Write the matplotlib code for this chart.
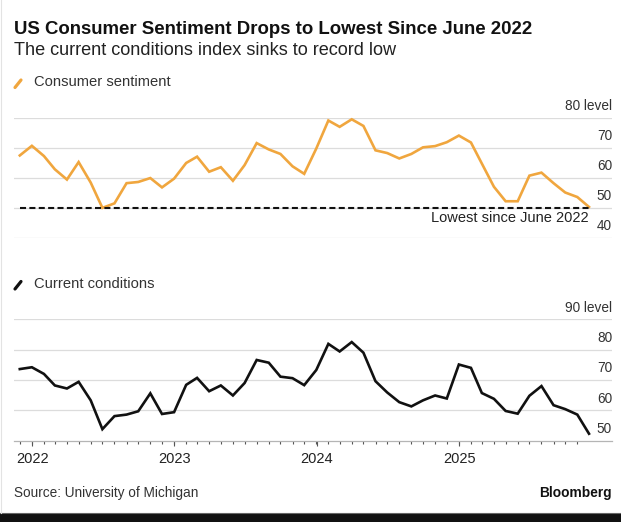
import matplotlib
matplotlib.use('Agg')
import matplotlib.pyplot as plt
import matplotlib.dates as mdates
from matplotlib.lines import Line2D
from matplotlib.patches import Rectangle
import pandas as pd

# ---------------- data ----------------
months = pd.date_range('2021-11-30', periods=49, freq='ME')  # Nov 2021 .. Nov 2025
sentiment = [67.4, 70.6, 67.2, 62.8, 59.4, 65.2, 58.4, 50.0, 51.5, 58.2, 58.6, 59.9,
             56.8, 59.7, 64.9, 67.0, 62.0, 63.5, 59.0, 64.2, 71.5, 69.4, 67.9, 63.8,
             61.3, 69.7, 79.0, 76.9, 79.4, 77.2, 69.1, 68.2, 66.4, 67.9, 70.1, 70.5,
             71.8, 74.0, 71.7, 64.7, 57.0, 52.2, 52.2, 60.7, 61.7, 58.2, 55.1, 53.6,
             50.3]
current = [73.6, 74.2, 72.0, 68.2, 67.2, 69.4, 63.3, 53.8, 58.1, 58.6, 59.7, 65.6,
           58.8, 59.4, 68.4, 70.7, 66.3, 68.2, 64.9, 69.0, 76.6, 75.7, 71.1, 70.6,
           68.3, 73.3, 81.9, 79.4, 82.5, 79.0, 69.6, 65.9, 62.7, 61.3, 63.3, 64.9,
           63.9, 75.1, 74.0, 65.7, 63.8, 59.8, 58.9, 64.8, 68.0, 61.7, 60.4, 58.6,
           52.3]
year_labels = ['2022', '2023', '2024', '2025']
year_ticks = pd.to_datetime(['2022-01-01', '2023-01-01', '2024-01-01', '2025-01-01'])
sentiment_levels = [40, 50, 60, 70, 80]
current_levels = [50, 60, 70, 80, 90]
low_level = 50.0

title = 'US Consumer Sentiment Drops to Lowest Since June 2022'
subtitle = 'The current conditions index sinks to record low'
series1_name = 'Consumer sentiment'
series2_name = 'Current conditions'
low_label = 'Lowest since June 2022'
source = 'Source: University of Michigan'
brand = 'Bloomberg'

# ---------------- style ----------------
ORANGE = '#F0A63E'
GRID = '#dcdcdc'
TXT = '#333333'
W, H = 621, 522
plt.rcParams['font.family'] = ['Liberation Sans', 'DejaVu Sans']

fig = plt.figure(figsize=(W / 100, H / 100), dpi=100)
fig.patch.set_facecolor('white')


def fx(px):
    return px / W


def fy(py):
    return 1 - py / H


x0, x1 = 14, 612
ax1 = fig.add_axes([fx(x0), fy(238), (x1 - x0) / W, (238 - 117.5) / H])
ax2 = fig.add_axes([fx(x0), fy(440.7), (x1 - x0) / W, (440.7 - 319.3) / H])

d0 = mdates.date2num(months[0])
dn = mdates.date2num(months[-1])
scale = (589 - 19.8) / (dn - d0)  # px per day
xlim = (d0 - (19.8 - x0) / scale, dn + (x1 - 589) / scale)

for ax in (ax1, ax2):
    ax.set_xlim(mdates.num2date(xlim[0]), mdates.num2date(xlim[1]))
    for s in ax.spines.values():
        s.set_visible(False)
    ax.set_facecolor('none')
    ax.set_yticks([])

# ---- top panel ----
ax1.set_ylim(40, 80)
ax1.set_xticks([])
for lev in sentiment_levels:
    ax1.axhline(lev, color=GRID, lw=0.9, zorder=1)
    lab = f'{lev} level' if lev == max(sentiment_levels) else f'{lev}'
    ax1.annotate(lab, xy=(1, lev), xycoords=('axes fraction', 'data'),
                 xytext=(0, 8), textcoords='offset pixels', ha='right',
                 va='baseline', fontsize=9.8, color=TXT, annotation_clip=False)
ax1.plot(months, sentiment, color=ORANGE, lw=1.9, zorder=3,
         solid_joinstyle='miter', clip_on=False)
ax1.hlines(low_level, months[0], months[-1], color='#111111', lw=1.5,
           linestyles=(0, (2.9, 1.6)), zorder=4)
ax1.annotate(low_label, xy=(months[-1], low_level), xycoords='data',
             xytext=(0, -14.5), textcoords='offset pixels', ha='right',
             va='baseline', fontsize=10.5, color='#222222')

# ---- bottom panel ----
ax2.set_ylim(50, 90)
for lev in current_levels:
    if lev != min(current_levels):
        ax2.axhline(lev, color=GRID, lw=0.9, zorder=1)
    lab = f'{lev} level' if lev == max(current_levels) else f'{lev}'
    ax2.annotate(lab, xy=(1, lev), xycoords=('axes fraction', 'data'),
                 xytext=(0, 7.5), textcoords='offset pixels', ha='right',
                 va='baseline', fontsize=9.8, color=TXT, annotation_clip=False)
ax2.spines['bottom'].set_visible(True)
ax2.spines['bottom'].set_color('#b5b5b5')
ax2.spines['bottom'].set_linewidth(0.9)
ax2.plot(months, current, color='#111111', lw=1.9, zorder=3,
         solid_joinstyle='miter', clip_on=False)
ax2.set_xticks(year_ticks, labels=year_labels)
ax2.set_xticks(months[:-1], minor=True)
ax2.tick_params(axis='x', which='major', length=3.8, width=0.8, color='#555555',
                pad=4, labelsize=10.5, labelcolor='#222222')
ax2.tick_params(axis='x', which='minor', length=2.2, width=0.8, color='#555555')

# ---- header / legend ----
fig.text(fx(14), fy(34.5), title, fontsize=13.4, fontweight='bold',
         color='#111111', va='baseline', ha='left')
fig.text(fx(14), fy(55), subtitle, fontsize=13.1, color='#222222',
         va='baseline', ha='left')
fig.add_artist(Line2D([fx(15), fx(21)], [fy(87.5), fy(80)], color=ORANGE,
                      lw=2.3, solid_capstyle='round', transform=fig.transFigure))
fig.text(fx(34.5), fy(86), series1_name, fontsize=10.6, color=TXT,
         va='baseline', ha='left')
fig.add_artist(Line2D([fx(15), fx(21)], [fy(289), fy(281.5)], color='#111111',
                      lw=2.3, solid_capstyle='round', transform=fig.transFigure))
fig.text(fx(34.5), fy(287.7), series2_name, fontsize=10.6, color=TXT,
         va='baseline', ha='left')

# ---- footer ----
fig.text(fx(14), fy(497.5), source, fontsize=9.8, color=TXT,
         va='baseline', ha='left')
fig.text(fx(611.7), fy(497.3), brand, fontsize=9.9, fontweight='bold',
         color='#111111', va='baseline', ha='right')

fig.add_artist(Rectangle((0, 0), 1, fy(512.7), transform=fig.transFigure,
                         facecolor='#111111', edgecolor='none'))
fig.add_artist(Line2D([0, 1], [fy(512.7), fy(512.7)], color='#666666', lw=0.8,
                      transform=fig.transFigure))
fig.add_artist(Line2D([fx(0.6), fx(0.6)], [fy(0), fy(512.7)], color='#e3e3e3',
                      lw=0.8, transform=fig.transFigure))

fig.savefig('out.png', dpi=100, facecolor='white')
